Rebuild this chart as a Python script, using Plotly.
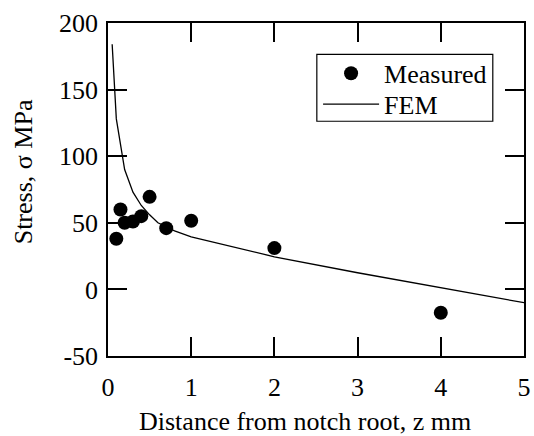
import plotly.graph_objects as go

measured_x = [0.1, 0.15, 0.2, 0.3, 0.4, 0.5, 0.7, 1.0, 2.0, 4.0]
measured_y = [38, 60, 50, 51, 55, 69.5, 46, 51.5, 31, -17.5]

fem_x = [0.05, 0.1, 0.2, 0.3, 0.4, 0.5, 0.6, 0.8, 1.0, 2.0, 3.0, 4.0, 5.0]
fem_y = [184, 128, 90, 73, 63, 56, 50, 44, 39.5, 24.5, 12.5, 1.5, -10]

x_ticks = [0, 1, 2, 3, 4, 5]
y_ticks = [-50, 0, 50, 100, 150, 200]

FONT = "Liberation Serif, Times New Roman, serif"

fig = go.Figure()
fig.add_trace(go.Scatter(x=measured_x, y=measured_y, mode="markers", name="Measured",
                         marker=dict(size=14, color="black"), legend="legend"))
fig.add_trace(go.Scatter(x=fem_x, y=fem_y, mode="lines", name="FEM",
                         line=dict(color="black", width=1.3), legend="legend2"))

axis_common = dict(showgrid=False, zeroline=False, showline=True, linecolor="black",
                   linewidth=1.5, mirror="allticks", ticks="inside", ticklen=19,
                   tickwidth=1.5, tickcolor="black", automargin=False,
                   tickfont=dict(family=FONT, size=26, color="black"))

fig.update_xaxes(range=[0, 5], tickvals=x_ticks, ticktext=[str(v) for v in x_ticks],
                 ticklabelstandoff=7, **axis_common)
fig.update_yaxes(range=[-50, 200], tickvals=y_ticks, ticktext=[str(v) for v in y_ticks],
                 ticklabelstandoff=3, **axis_common)

title_font = dict(family=FONT, size=26, color="black")
fig.add_annotation(text="Distance from notch root, z mm", xref="paper", yref="paper",
                   x=0.473, y=-0.197, xanchor="center", yanchor="middle", showarrow=False,
                   font=title_font)
fig.add_annotation(text="Stress, σ MPa", textangle=-90, xref="paper", yref="paper",
                   x=-0.204, y=0.552, xanchor="center", yanchor="middle", showarrow=False,
                   font=title_font)

# legend frame
fig.add_shape(type="rect", xref="paper", yref="paper", x0=0.502, x1=0.925, y0=0.705, y1=0.906,
              line=dict(color="black", width=1.2), fillcolor="white", layer="below")

leg_font = dict(family=FONT, size=26, color="black")
fig.update_layout(
    width=534, height=436,
    margin=dict(l=108, r=10, t=23, b=80),
    plot_bgcolor="white", paper_bgcolor="white",
    font=dict(family=FONT, size=26, color="black"),
    legend=dict(x=0.505, y=0.849, xanchor="left", yanchor="middle",
                borderwidth=0, bgcolor="rgba(0,0,0,0)", itemwidth=56, font=leg_font),
    legend2=dict(x=0.505, y=0.756, xanchor="left", yanchor="middle",
                 borderwidth=0, bgcolor="rgba(0,0,0,0)", itemwidth=56, font=leg_font),
    showlegend=True,
)

fig.write_html("out.html", config={"displayModeBar": False},
               post_script="document.body.style.margin='0px';document.body.style.overflow='hidden';")
